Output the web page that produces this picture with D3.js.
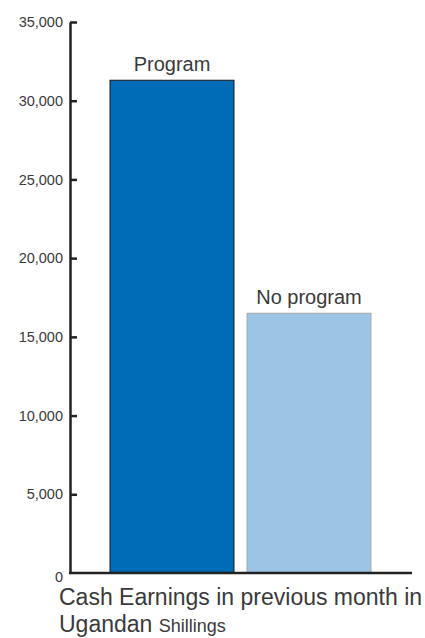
<!DOCTYPE html>
<html>
<head>
<meta charset="utf-8">
<script src="https://cdn.jsdelivr.net/npm/d3@7"></script>
<style>
  body { margin: 0; background: #fff; }
  svg text { font-family: "Liberation Sans", Arial, sans-serif; fill: #3a3a3a; }
</style>
</head>
<body>
<svg id="chart" width="425" height="638"></svg>
<script>
// data
var categories = ["Program", "No program"]
var earnings = [31300, 16500]
var yTicks = [0, 5000, 10000, 15000, 20000, 25000, 30000, 35000]
var barFill = ["#006bb6", "#9cc4e4"]
var barStroke = ["#1a1a1a", "#a8a8a8"]

var svg = d3.select("#chart")

var x = d3.scaleBand()
    .domain(categories)
    .range([110, 371])
    .paddingInner(0.095)

var y = d3.scaleLinear()
    .domain([0, 35000])
    .range([573, 22])

// bars
svg.selectAll("rect.bar")
    .data(categories)
    .enter().append("rect")
    .attr("class", "bar")
    .attr("x", function(d) { return x(d) })
    .attr("width", x.bandwidth())
    .attr("y", function(d, i) { return y(earnings[i]) })
    .attr("height", function(d, i) { return y(0) - y(earnings[i]) })
    .style("fill", function(d, i) { return barFill[i] })
    .style("stroke", function(d, i) { return barStroke[i] })
    .style("stroke-width", 1)

// bar labels
svg.selectAll("text.lbl")
    .data(categories)
    .enter().append("text")
    .attr("class", "lbl")
    .attr("x", function(d) { return x(d) + x.bandwidth() / 2 })
    .attr("y", function(d, i) { return y(earnings[i]) - 9 })
    .attr("text-anchor", "middle")
    .style("font-size", "20px")
    .text(function(d) { return d })

// y axis
var yAxis = d3.axisLeft(y)
    .tickValues(yTicks)
    .tickSize(-7)
    .tickSizeOuter(0)
    .tickPadding(7)
    .tickFormat(d3.format(","))

var gy = svg.append("g")
    .attr("transform", "translate(70,0)")
    .call(yAxis)

gy.select(".domain").style("stroke", "#222").style("stroke-width", 2.5)
gy.selectAll(".tick line").style("stroke", "#222").style("stroke-width", 2.5)
gy.selectAll(".tick").filter(function(d) { return d === 0 }).select("line").remove()
gy.selectAll(".tick text")
    .style("font-size", "14.5px")
    .style("font-family", "'Liberation Sans', Arial, sans-serif")
    .style("fill", "#3a3a3a")
gy.selectAll(".tick").filter(function(d) { return d === 0 }).select("text").attr("dy", "0.6em")

// x axis line
svg.append("line")
    .attr("x1", 69)
    .attr("x2", 412)
    .attr("y1", y(0))
    .attr("y2", y(0))
    .style("stroke", "#222")
    .style("stroke-width", 2.5)

// axis title
svg.append("text")
    .attr("x", 59)
    .attr("y", 605)
    .style("font-size", "23px")
    .text("Cash Earnings in previous month in")

var t2 = svg.append("text")
    .attr("x", 59)
    .attr("y", 632)
    .style("font-size", "23px")
t2.append("tspan").text("Ugandan ")
t2.append("tspan").style("font-size", "18px").text("Shillings")
</script>
</body>
</html>
